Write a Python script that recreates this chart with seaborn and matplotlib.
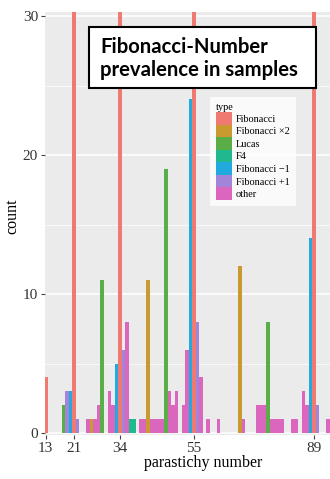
import pandas as pd
import matplotlib.pyplot as plt
from matplotlib.patches import Patch, Rectangle
import seaborn as sns

type_order = ['Fibonacci', 'Fibonacci ×2', 'Lucas', 'F4',
              'Fibonacci −1', 'Fibonacci +1', 'other']
type_colors = ['#EE7A72', '#C89A30', '#5AAE48', '#20B98E',
               '#22AADF', '#A284D8', '#DB66BE']

# parastichy number -> count, per type (tall Fibonacci bars run off the top)
fib_n = [13, 21, 34, 55, 89]
fib_count = [4, 38, 52, 66, 41]
fib2_n = [26, 42, 68]
fib2_count = [1, 11, 12]
lucas_n = [18, 29, 47, 76]
lucas_count = [2, 11, 19, 8]
f4_n = [37, 38]
f4_count = [1, 1]
fibm1_n = [20, 33, 54, 88]
fibm1_count = [3, 5, 24, 14]
fibp1_n = [19, 22, 35, 56, 90]
fibp1_count = [3, 1, 6, 8, 2]
other_n = [25, 27, 28, 31, 32, 36, 40, 41, 43, 44, 45, 46, 48, 49, 50, 52, 53,
           57, 59, 62, 69, 73, 74, 75, 77, 78, 79, 80, 83, 84, 86, 87, 93]
other_count = [1, 1, 2, 3, 2, 8, 1, 1, 1, 1, 1, 1, 3, 2, 3, 2, 6,
               4, 1, 1, 1, 2, 2, 2, 1, 1, 1, 1, 1, 1, 3, 2, 1]

x_ticks = [13, 21, 34, 55, 89]
y_ticks = [0, 10, 20, 30]

groups = [(fib_n, fib_count), (fib2_n, fib2_count), (lucas_n, lucas_count),
          (f4_n, f4_count), (fibm1_n, fibm1_count), (fibp1_n, fibp1_count),
          (other_n, other_count)]
rows = []
for t, (ns, cs) in zip(type_order, groups):
    for n, c in zip(ns, cs):
        rows.append({'n': n, 'count': c, 'type': t})
df = pd.DataFrame(rows)

plt.rcParams['font.family'] = ['Liberation Serif', 'DejaVu Serif']

W, H = 330, 479
fig = plt.figure(figsize=(W / 100, H / 100), dpi=100)
# panel runs past the right edge of the picture (the original is cropped)
ax = fig.add_axes([45 / W, 1 - 435 / H, (361 - 45) / W, (435 - 12) / H])
ax.set_facecolor('#EBEBEB')
for s in ax.spines.values():
    s.set_visible(False)

sns.histplot(data=df, x='n', weights='count', hue='type', hue_order=type_order,
             palette=type_colors, discrete=True, multiple='stack', shrink=1,
             linewidth=0, alpha=1, legend=False, ax=ax, zorder=3)

ax.set_xlim(12.79, 102.3)
ax.set_ylim(-0.14, 30.29)
ax.set_xticks(x_ticks)
ax.set_yticks(y_ticks)
ax.set_yticks([5, 15, 25], minor=True)
ax.grid(which='major', axis='y', color='white', lw=1.1, zorder=0)
ax.grid(which='minor', axis='y', color='white', lw=0.5, zorder=0)
ax.grid(which='major', axis='x', visible=False)
ax.set_axisbelow(True)
ax.tick_params(which='major', length=3, color='#444444', labelsize=11,
               labelcolor='#333333', pad=2)
ax.tick_params(which='minor', length=0)

ax.set_xlabel('parastichy number', fontsize=11.5)
ax.set_ylabel('count', fontsize=11.5)
ax.xaxis.set_label_coords(0.5, -(455 - 435) / 423)
ax.yaxis.set_label_coords((20 - 45) / 316, (435 - 216) / 423)

# legend
handles = [Patch(facecolor=c, edgecolor='none') for c in type_colors]
leg = fig.legend(handles, type_order, title='type', loc='upper left',
                 bbox_to_anchor=(210 / W, 1 - 97 / H), borderaxespad=0,
                 fontsize=7.4, title_fontsize=7.4, handlelength=1.5,
                 handleheight=1.5, labelspacing=0, handletextpad=0.4,
                 borderpad=0.6, frameon=True, fancybox=False, alignment='left')
leg.get_frame().set_facecolor('white')
leg.get_frame().set_edgecolor('none')

# title box
fig.patches.append(Rectangle((89 / W, 1 - 88 / H), 227 / W, 61 / H,
                             transform=fig.transFigure, facecolor='white',
                             edgecolor='black', lw=1.5, zorder=5))
fig.text(100 / W, 1 - 53 / H, 'Fibonacci-Number', family='Lato',
         weight='bold', fontsize=14.6, va='baseline', zorder=6)
fig.text(100 / W, 1 - 76 / H, 'prevalence in samples', family='Lato',
         weight='bold', fontsize=14.6, va='baseline', zorder=6)

fig.savefig('out.png', dpi=100)
